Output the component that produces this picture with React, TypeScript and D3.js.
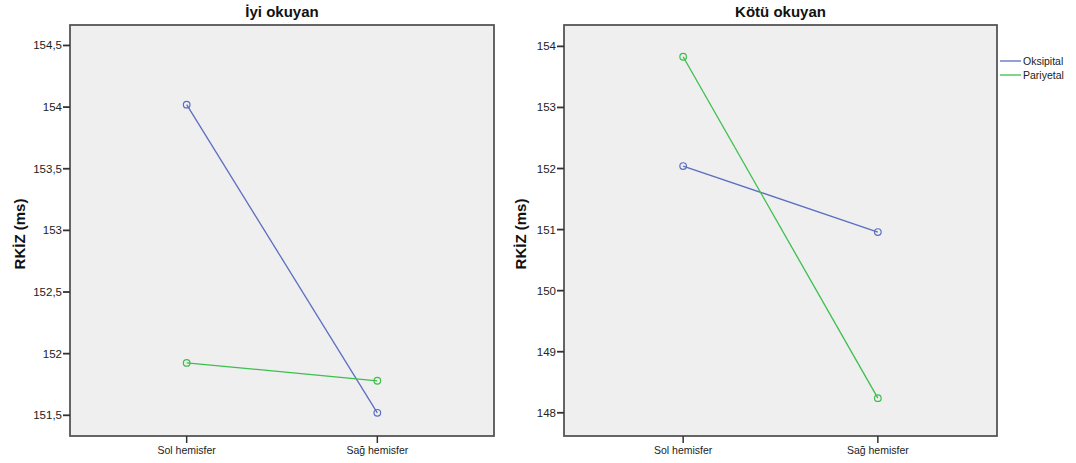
import React from "react";
import { scaleLinear, scalePoint, line } from "d3";

const width = 1076;
const height = 463;

const categories = ["Sol hemisfer", "Sağ hemisfer"];
const seriesNames = ["Oksipital", "Pariyetal"];
const colors = ["#5b6ec0", "#3cbf4c"];

// İyi okuyan
const goodOksipital = [154.02, 151.52];
const goodPariyetal = [151.925, 151.78];
const goodTicks = [151.5, 152, 152.5, 153, 153.5, 154, 154.5];

// Kötü okuyan
const poorOksipital = [152.04, 150.96];
const poorPariyetal = [153.83, 148.24];
const poorTicks = [148, 149, 150, 151, 152, 153, 154];

const panels = [
  {
    title: "İyi okuyan",
    left: 70,
    right: 494,
    domain: [151.332, 154.666],
    ticks: goodTicks,
    series: [goodOksipital, goodPariyetal],
    labelX: 25,
  },
  {
    title: "Kötü okuyan",
    left: 564,
    right: 997,
    domain: [147.62, 154.35],
    ticks: poorTicks,
    series: [poorOksipital, poorPariyetal],
    labelX: 526,
  },
];

const top = 25;
const bottom = 436;
const font = "'Liberation Sans', Arial, sans-serif";
const fmt = (v: number) => String(v).replace(".", ",");

function Panel({ p }: { p: (typeof panels)[number] }) {
  const x = scalePoint<string>().domain(categories).range([p.left, p.right]).padding(0.612);
  const y = scaleLinear().domain(p.domain).range([bottom, top]);
  const path = line<number>()
    .x((_, i) => x(categories[i]) as number)
    .y(d => y(d));
  const cx = (p.left + p.right) / 2;
  return (
    <g>
      <rect x={p.left} y={top} width={p.right - p.left} height={bottom - top} fill="#efefef" />
      {p.series.map((s, si) => (
        <g key={si}>
          <path d={path(s) || ""} fill="none" stroke={colors[si]} strokeWidth={1.3} />
          {s.map((v, i) => (
            <circle key={i} cx={x(categories[i])} cy={y(v)} r={3.3} fill="none" stroke={colors[si]} strokeWidth={1.2} />
          ))}
        </g>
      ))}
      <rect x={p.left} y={top} width={p.right - p.left} height={bottom - top} fill="none" stroke="#555" strokeWidth={1.8} />
      {p.ticks.map(t => (
        <g key={t} transform={`translate(${p.left},${y(t)})`}>
          <line x1={-7} x2={0} stroke="#333" strokeWidth={1.8} />
          <text x={-8} dy="0.35em" textAnchor="end" fontSize={11.5} fill="#222" fontFamily={font}>
            {fmt(t)}
          </text>
        </g>
      ))}
      {categories.map(c => (
        <g key={c} transform={`translate(${x(c)},${bottom})`}>
          <line y1={0} y2={7} stroke="#333" strokeWidth={1.5} />
          <text y={18} textAnchor="middle" fontSize={10.5} fill="#222" fontFamily={font}>
            {c}
          </text>
        </g>
      ))}
      <text x={cx} y={17} textAnchor="middle" fontSize={15} fontWeight="bold" fill="#111" fontFamily={font}>
        {p.title}
      </text>
      <text
        transform={`translate(${p.labelX},234) rotate(-90)`}
        textAnchor="middle"
        fontSize={15}
        fontWeight="bold"
        fill="#111"
        fontFamily={font}
      >
        RKİZ (ms)
      </text>
    </g>
  );
}

export default function App() {
  return (
    <svg width={width} height={height} style={{ position: "absolute", left: 0, top: 0, background: "#fff" }}>
      {panels.map(p => (
        <Panel key={p.title} p={p} />
      ))}
      {seriesNames.map((n, i) => (
        <g key={n} transform={`translate(1000,${61 + i * 14})`}>
          <line x1={0} x2={21} stroke={colors[i]} strokeWidth={1.3} />
          <text x={23} dy="0.35em" fontSize={10.5} fill="#222" fontFamily={font}>
            {n}
          </text>
        </g>
      ))}
    </svg>
  );
}
